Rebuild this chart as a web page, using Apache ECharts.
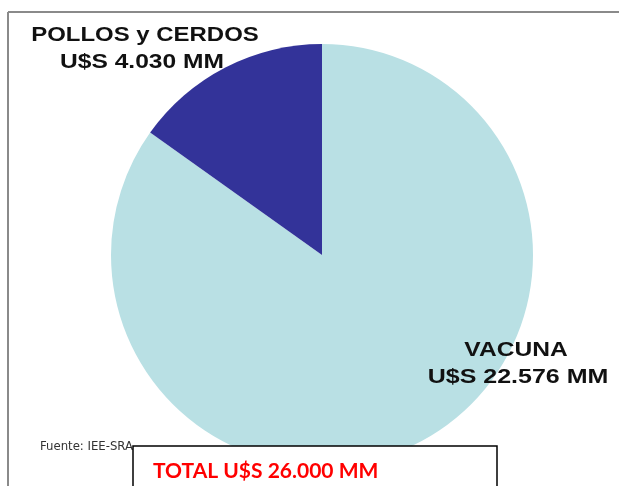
<!DOCTYPE html>
<html>
<head>
<meta charset="utf-8">
<script src="https://cdn.jsdelivr.net/npm/echarts@6/dist/echarts.min.js"></script>
<style>
html,body{margin:0;padding:0;background:#fff;}
#main{width:619px;height:486px;}
</style>
</head>
<body>
<div id="main"></div>
<script>
// datos
var categorias = ['VACUNA', 'POLLOS y CERDOS'];
var valores = [22576, 4030];
var etiquetas = ['U$S 22.576 MM', 'U$S 4.030 MM'];
var colores = ['#b9e0e4', '#333399'];
var total = 'TOTAL U$S 26.000 MM';
var fuente = 'Fuente: IEE-SRA';

var myChart = echarts.init(document.getElementById('main'));

var datos = [];
for (var i = 0; i < categorias.length; i++) {
	datos.push({name: categorias[i], value: valores[i], itemStyle: {color: colores[i]}});
}

// texto de etiqueta, algo ensanchado como en la imagen original
function etiqueta(txt, x, y, sx) {
	return {
		type: 'text', x: x, y: y, scaleX: sx, z: 10,
		style: {
			text: txt,
			fill: '#111',
			font: 'bold 21px "Liberation Sans", Arial, sans-serif',
			align: 'center',
			verticalAlign: 'middle'
		}
	};
}

var option = {
	animation: false,
	backgroundColor: '#fff',
	series: [{
		type: 'pie',
		center: [322, 255],
		radius: 211,
		startAngle: 90,
		clockwise: true,
		label: {show: false},
		labelLine: {show: false},
		itemStyle: {borderWidth: 0},
		emphasis: {disabled: true},
		data: datos
	}],
	graphic: [
		// marco
		{type: 'line', shape: {x1: 8, y1: 12, x2: 619, y2: 12}, style: {stroke: '#8a8a8a', lineWidth: 2}, z: 5},
		{type: 'line', shape: {x1: 8, y1: 12, x2: 8, y2: 486}, style: {stroke: '#8a8a8a', lineWidth: 2}, z: 5},
		// etiquetas
		etiqueta(categorias[1], 145, 35, 1.14),
		etiqueta(etiquetas[1], 142, 62, 1.17),
		etiqueta(categorias[0], 516, 350, 1.17),
		etiqueta(etiquetas[0], 518, 377, 1.19),
		// fuente
		{type: 'text', left: 40, top: 440, z: 10,
			style: {text: fuente, fill: '#333', font: '13px "Liberation Sans Narrow", "DejaVu Sans Condensed", sans-serif'}},
		// cuadro total
		{type: 'rect', shape: {x: 133, y: 446, width: 364, height: 60}, z: 20,
			style: {fill: '#fff', stroke: '#000', lineWidth: 1.5}},
		{type: 'text', left: 153, top: 461, z: 21,
			style: {text: total, fill: '#ff0000', font: 'bold 21px Lato, "Open Sans", sans-serif'}}
	]
};
myChart.setOption(option);
</script>
</body>
</html>
